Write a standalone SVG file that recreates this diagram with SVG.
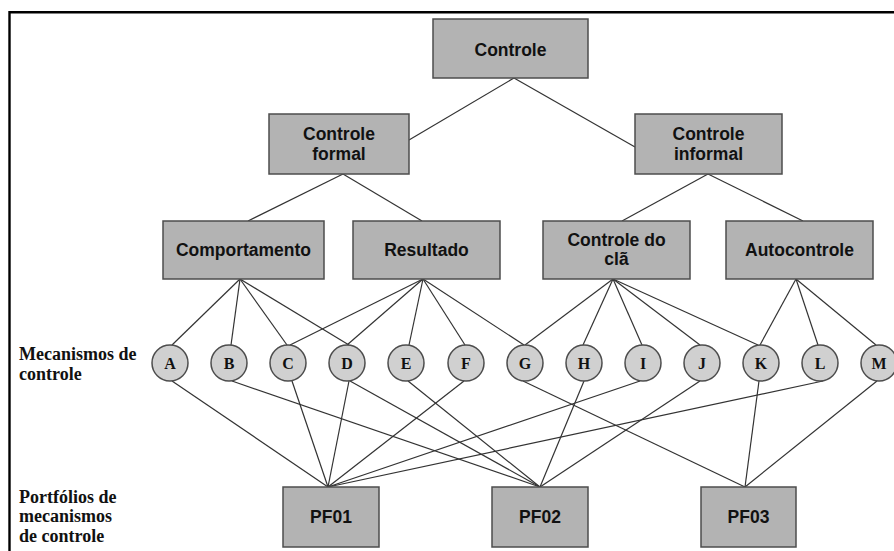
<svg xmlns="http://www.w3.org/2000/svg" width="894" height="551" viewBox="0 0 894 551">
  <style>
    .box { fill: #b3b3b3; stroke: #4d4d4d; stroke-width: 1.5; }
    .circ { fill: #d0d0d0; stroke: #4d4d4d; stroke-width: 1.5; }
    .bt { font-family: "Liberation Sans", Arial, sans-serif; font-weight: bold; font-size: 17.5px; fill: #111; text-anchor: middle; }
    .ct { font-family: "Liberation Serif", "Times New Roman", serif; font-weight: bold; font-size: 16px; fill: #111; text-anchor: middle; }
    .lt { font-family: "Liberation Serif", "Times New Roman", serif; font-weight: bold; font-size: 18px; fill: #111; }
    .edges line { stroke: #333; stroke-width: 1.2; }
  </style>
  <rect width="894" height="551" fill="#fff"/>
  <!-- frame -->
  <path d="M9.5,551 V12.2 H894" fill="none" stroke="#000" stroke-width="2.4"/>

  <!-- connectors: circles are joined at their top (y=345) and bottom (y=381) points -->
  <g id="connectors" class="edges">
    <line x1="514" y1="78" x2="409" y2="140"/>
    <line x1="514" y1="78" x2="635" y2="147"/>
    <line x1="343" y1="174" x2="248" y2="221"/>
    <line x1="343" y1="174" x2="422" y2="221"/>
    <line x1="708" y1="174" x2="622" y2="221"/>
    <line x1="708" y1="174" x2="803" y2="221"/>
    <!-- Comportamento -->
    <line x1="240" y1="279" x2="172" y2="345"/>
    <line x1="240" y1="279" x2="231" y2="345"/>
    <line x1="240" y1="279" x2="287" y2="345"/>
    <line x1="240" y1="279" x2="349" y2="345"/>
    <!-- Resultado -->
    <line x1="423" y1="279" x2="290" y2="345"/>
    <line x1="423" y1="279" x2="347" y2="345"/>
    <line x1="423" y1="279" x2="409" y2="345"/>
    <line x1="423" y1="279" x2="465" y2="345"/>
    <line x1="423" y1="279" x2="524" y2="345"/>
    <!-- Controle do cla -->
    <line x1="613" y1="279" x2="525" y2="345"/>
    <line x1="613" y1="279" x2="583" y2="345"/>
    <line x1="613" y1="279" x2="642" y2="345"/>
    <line x1="613" y1="279" x2="700" y2="345"/>
    <line x1="613" y1="279" x2="758" y2="345"/>
    <!-- Autocontrole -->
    <line x1="796" y1="279" x2="760" y2="345"/>
    <line x1="796" y1="279" x2="818" y2="345"/>
    <line x1="796" y1="279" x2="876" y2="345"/>
    <!-- PF01 -->
    <line x1="328" y1="487" x2="172" y2="381"/>
    <line x1="328" y1="487" x2="292" y2="381"/>
    <line x1="328" y1="487" x2="349" y2="381"/>
    <line x1="328" y1="487" x2="464" y2="381"/>
    <line x1="328" y1="487" x2="640" y2="381"/>
    <line x1="328" y1="487" x2="823" y2="381"/>
    <!-- PF02 -->
    <line x1="540" y1="487" x2="232" y2="381"/>
    <line x1="540" y1="487" x2="350" y2="381"/>
    <line x1="540" y1="487" x2="408" y2="381"/>
    <line x1="540" y1="487" x2="584" y2="381"/>
    <line x1="540" y1="487" x2="700" y2="381"/>
    <!-- PF03 -->
    <line x1="745" y1="487" x2="523" y2="381"/>
    <line x1="745" y1="487" x2="759" y2="381"/>
    <line x1="745" y1="487" x2="877" y2="381"/>
  </g>

  <!-- hierarchy boxes -->
  <g id="controle"><rect class="box" x="433" y="19" width="155" height="59"/><text class="bt" x="510.5" y="56">Controle</text></g>
  <g id="controle-formal"><rect class="box" x="269" y="114" width="140" height="60"/><text class="bt" x="339" y="140">Controle</text><text class="bt" x="339" y="160">formal</text></g>
  <g id="controle-informal"><rect class="box" x="635" y="114" width="147" height="60"/><text class="bt" x="708.5" y="140">Controle</text><text class="bt" x="708.5" y="160">informal</text></g>
  <g id="comportamento"><rect class="box" x="163" y="221" width="161" height="58"/><text class="bt" x="243.5" y="256">Comportamento</text></g>
  <g id="resultado"><rect class="box" x="353" y="221" width="147" height="58"/><text class="bt" x="426.5" y="256">Resultado</text></g>
  <g id="controle-cla"><rect class="box" x="543" y="221" width="147" height="58"/><text class="bt" x="616.5" y="246">Controle do</text><text class="bt" x="616.5" y="265">clã</text></g>
  <g id="autocontrole"><rect class="box" x="726" y="221" width="147" height="58"/><text class="bt" x="799.5" y="256">Autocontrole</text></g>

  <!-- mechanisms -->
  <g id="mec-A"><circle class="circ" cx="170" cy="363" r="18"/><text class="ct" x="170" y="369">A</text></g>
  <g id="mec-B"><circle class="circ" cx="229" cy="363" r="18"/><text class="ct" x="229" y="369">B</text></g>
  <g id="mec-C"><circle class="circ" cx="288" cy="363" r="18"/><text class="ct" x="288" y="369">C</text></g>
  <g id="mec-D"><circle class="circ" cx="347" cy="363" r="18"/><text class="ct" x="347" y="369">D</text></g>
  <g id="mec-E"><circle class="circ" cx="406" cy="363" r="18"/><text class="ct" x="406" y="369">E</text></g>
  <g id="mec-F"><circle class="circ" cx="466" cy="363" r="18"/><text class="ct" x="466" y="369">F</text></g>
  <g id="mec-G"><circle class="circ" cx="525" cy="363" r="18"/><text class="ct" x="525" y="369">G</text></g>
  <g id="mec-H"><circle class="circ" cx="584" cy="363" r="18"/><text class="ct" x="584" y="369">H</text></g>
  <g id="mec-I"><circle class="circ" cx="643" cy="363" r="18"/><text class="ct" x="643" y="369">I</text></g>
  <g id="mec-J"><circle class="circ" cx="702" cy="363" r="18"/><text class="ct" x="702" y="369">J</text></g>
  <g id="mec-K"><circle class="circ" cx="761" cy="363" r="18"/><text class="ct" x="761" y="369">K</text></g>
  <g id="mec-L"><circle class="circ" cx="820" cy="363" r="18"/><text class="ct" x="820" y="369">L</text></g>
  <g id="mec-M"><circle class="circ" cx="879" cy="363" r="18"/><text class="ct" x="879" y="369">M</text></g>

  <!-- portfolios -->
  <g id="pf01"><rect class="box" x="283" y="487" width="96" height="60"/><text class="bt" x="331" y="523">PF01</text></g>
  <g id="pf02"><rect class="box" x="492" y="487" width="96" height="60"/><text class="bt" x="540" y="523">PF02</text></g>
  <g id="pf03"><rect class="box" x="701" y="487" width="95" height="60"/><text class="bt" x="748.5" y="523">PF03</text></g>

  <!-- row labels -->
  <g id="label-mecanismos"><text class="lt" x="19" y="360">Mecanismos de</text><text class="lt" x="19" y="380">controle</text></g>
  <g id="label-portfolios"><text class="lt" x="19" y="503">Portfólios de</text><text class="lt" x="19" y="522">mecanismos</text><text class="lt" x="19" y="542">de controle</text></g>
</svg>
